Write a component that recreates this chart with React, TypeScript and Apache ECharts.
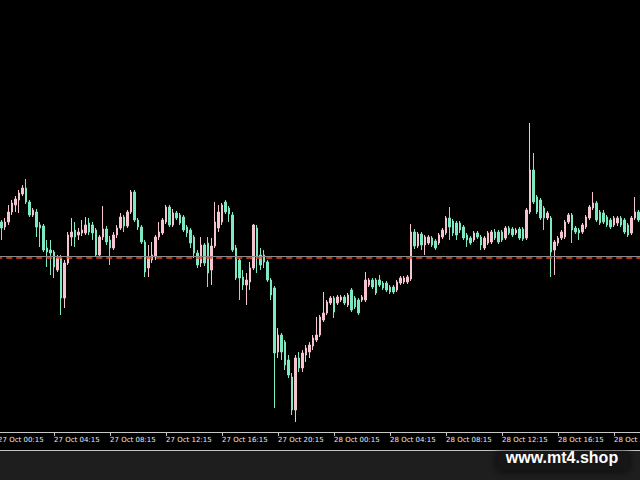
import React, { useEffect, useRef } from "react";
import * as echarts from "echarts";

const tickLabels = [
  "27 Oct 00:15", "27 Oct 04:15", "27 Oct 08:15", "27 Oct 12:15", "27 Oct 16:15", "27 Oct 20:15",
  "28 Oct 00:15", "28 Oct 04:15", "28 Oct 08:15", "28 Oct 12:15", "28 Oct 16:15", "28 Oct 20:15",
];

const opens = [
  274,278,273,278,288,295,300,306,312,298,
  285,288,275,274,252,250,248,230,242,202,
  237,263,270,265,267,267,277,275,270,245,
  263,271,260,252,265,272,283,274,288,308,
  280,273,258,232,240,243,263,267,278,293,
  275,287,285,283,273,270,263,247,237,255,
  257,230,254,272,278,298,292,285,252,240,
  223,215,218,232,272,245,245,238,220,212,
  148,165,158,140,123,90,142,132,145,148,
  154,160,165,180,187,197,202,197,200,203,
  195,210,202,200,200,200,215,220,220,220,
  217,217,213,213,210,217,218,218,221,268,
  254,266,255,257,262,259,257,263,267,282,
  279,277,277,273,265,262,260,267,263,252,
  257,258,268,268,268,262,272,271,267,271,
  271,262,288,330,303,300,292,282,282,250,
  257,262,263,278,285,272,270,268,273,282,
  292,297,288,287,283,280,275,277,282,280,
  275,267,282,288,
];
const closes = [
  280,272,278,288,297,301,307,312,298,285,
  290,273,272,250,248,247,233,242,202,237,
  265,268,263,268,270,275,268,267,245,263,
  271,258,252,265,272,283,274,288,308,280,
  273,258,228,243,245,263,268,280,293,275,
  287,282,277,270,267,257,247,235,255,237,
  227,254,278,288,295,288,286,250,222,222,
  215,220,232,275,243,235,238,220,205,147,
  165,148,135,125,90,142,132,147,152,155,
  162,165,183,187,198,202,188,203,203,197,
  205,190,193,187,203,220,220,213,207,215,
  212,210,208,208,218,222,222,223,268,254,
  266,255,263,263,255,252,265,270,282,273,
  267,265,270,262,260,257,267,263,255,262,
  267,268,262,258,260,272,267,265,270,262,
  261,290,330,298,288,282,282,287,248,258,
  262,268,278,285,270,268,267,275,283,293,
  297,280,277,278,275,273,282,282,275,268,
  265,282,288,280,
];
const highs = [
  285,280,282,295,300,304,310,315,321,300,
  292,291,278,276,260,260,250,245,245,240,
  268,282,278,272,280,283,282,278,272,265,
  294,274,264,268,275,287,285,290,310,310,
  282,275,260,255,258,265,278,282,295,295,
  291,289,287,285,275,272,265,250,263,257,
  263,262,298,295,297,300,294,288,255,242,
  230,227,238,276,275,252,250,240,222,214,
  172,167,160,145,127,145,148,150,155,158,
  165,183,185,208,200,204,204,205,205,205,
  207,212,204,202,205,228,222,222,222,225,
  219,219,215,215,220,224,224,225,276,271,
  268,268,265,265,264,261,267,272,284,293,
  281,279,279,275,267,264,269,269,265,264,
  269,270,271,270,270,274,274,273,272,273,
  273,292,377,347,305,302,294,289,284,260,
  264,270,280,287,287,274,272,277,285,295,
  308,299,290,290,285,282,284,284,284,282,
  277,284,303,290,
];
const lows = [
  270,260,270,275,285,288,287,304,296,283,
  283,263,253,248,233,225,222,228,185,192,
  235,254,253,260,264,265,265,260,244,243,
  260,255,235,250,262,270,268,272,286,278,
  270,256,223,223,237,240,260,265,276,273,
  273,280,275,268,263,252,242,232,233,234,
  213,215,252,268,275,286,278,248,220,200,
  210,195,210,230,227,230,232,218,200,92,
  142,140,130,122,85,78,128,128,138,142,
  150,158,163,178,185,195,182,195,198,195,
  193,188,191,185,198,198,213,211,205,213,
  210,208,206,206,208,215,216,216,219,251,
  252,250,245,255,253,250,255,261,265,260,
  264,260,267,260,253,255,258,261,250,250,
  255,256,260,256,258,260,265,263,265,260,
  259,260,286,296,286,280,270,280,223,225,
  254,260,261,276,257,266,260,266,271,280,
  290,278,275,276,273,271,273,274,273,266,
  263,265,280,278,
];

const bidLevel = 243.5;
const dashedLevel = 242.5;

const UP = "#f6c4cf";
const DOWN = "#7ce9c3";

export default function App() {
  const ref = useRef<HTMLDivElement>(null);
  useEffect(() => {
    const chart = echarts.init(ref.current as HTMLDivElement, null, { renderer: "svg" });
    const categories = opens.map((_, i) => String(i));
    const data = opens.map((o, i) => [o, closes[i], lows[i], highs[i]]);
    chart.setOption({
      animation: false,
      backgroundColor: "#000000",
      grid: {
        left: -3.75,
        right: -0.25,
        top: 0,
        bottom: 48,
        containLabel: false,
        outerBoundsMode: "none",
      },
      xAxis: {
        type: "category",
        data: categories,
        boundaryGap: true,
        axisLine: { show: true, lineStyle: { color: "#c8c8c8", width: 1 } },
        axisTick: {
          show: true,
          interval: 15,
          alignWithLabel: true,
          length: 4,
          lineStyle: { color: "#c8c8c8" },
        },
        axisLabel: {
          interval: 15,
          formatter: (_v: string, idx: number) => tickLabels[Math.floor(idx / 16)] ?? "",
          align: "left",
          color: "#ececec",
          fontSize: 7,
          fontFamily: "DejaVu Sans",
          margin: 4,
          hideOverlap: false,
        },
        splitLine: { show: false },
      },
      yAxis: { type: "value", min: 68, max: 500, show: false, splitLine: { show: false } },
      series: [
        {
          type: "candlestick",
          data,
          barWidth: 2,
          z: 3,
          itemStyle: {
            color: UP,
            color0: DOWN,
            borderColor: UP,
            borderColor0: DOWN,
            borderWidth: 1,
          },
          markLine: {
            silent: true,
            symbol: ["none", "none"],
            label: { show: false },
            animation: false,
            lineStyle: { color: "#8a8a8a", type: "solid", width: 1 },
            emphasis: { disabled: true },
            data: [{ yAxis: bidLevel }],
          },
        },
        {
          type: "line",
          data: [],
          z: 4,
          markLine: {
            silent: true,
            symbol: ["none", "none"],
            label: { show: false },
            animation: false,
            lineStyle: { color: "#f0441c", type: [6, 4], width: 1.5, opacity: 1 },
            emphasis: { disabled: true },
            data: [{ yAxis: dashedLevel }],
          },
        },
      ],
      graphic: [
        { type: "rect", shape: { x: 0, y: 451, width: 640, height: 29 }, style: { fill: "#1e1e1e" }, silent: true },
        { type: "line", shape: { x1: 0, y1: 450.5, x2: 640, y2: 450.5 }, style: { stroke: "#c4c4c4", lineWidth: 1 }, silent: true },
        {
          type: "rect",
          shape: { x: 497, y: 451.5, width: 132, height: 19 },
          style: { fill: "#131313", shadowBlur: 8, shadowColor: "rgba(0,0,0,0.8)" },
          silent: true,
        },
        {
          type: "text",
          x: 562,
          y: 457,
          style: {
            text: "www.mt4.shop",
            fill: "#ffffff",
            font: "bold 16px 'Liberation Sans'",
            textAlign: "center",
            textVerticalAlign: "middle",
          },
          silent: true,
        },
      ],
    });
    return () => chart.dispose();
  }, []);
  return <div ref={ref} style={{ position: "fixed", left: 0, top: 0, width: 640, height: 480 }} />;
}
